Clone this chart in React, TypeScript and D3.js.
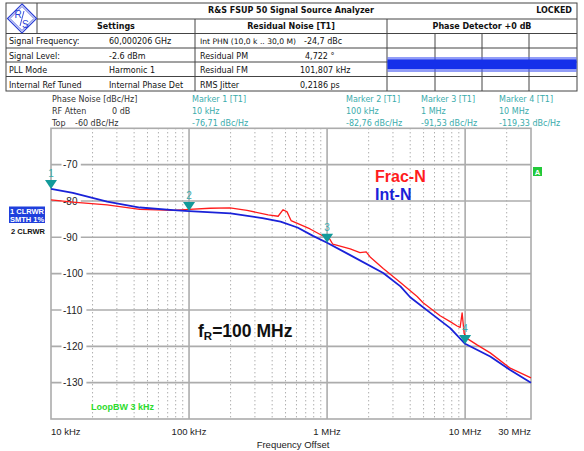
import { scaleLog, scaleLinear, line } from 'd3';

// trace 1 (Int-N)
const intNFreq = [1e4, 1.44e4, 2.55e4, 4.4e4, 7.7e4, 1e5, 2e5, 3.4e5, 4.6e5, 6.1e5, 7.9e5, 1e6, 1.47e6, 2.55e6, 3.4e6, 4e6, 5.6e6, 7.8e6, 1e7, 1.52e7, 2.12e7, 3e7];
const intNLevel = [-76.7, -77.8, -80.2, -81.8, -82.5, -82.8, -83.4, -84.7, -85.7, -87.3, -89.6, -91.5, -94.9, -99.8, -103.5, -106.5, -110.8, -115, -119.3, -122.8, -126.5, -130];

// trace 2 (Frac-N)
const fracNFreq = [1e4, 1.44e4, 2.55e4, 4.4e4, 7.7e4, 1e5, 1.42e5, 1.98e5, 2.63e5, 3.74e5, 4.42e5, 4.8e5, 5.13e5, 5.48e5, 7.53e5, 9.2e5, 1.02e6, 1.1e6, 1.47e6, 1.73e6, 1.92e6, 2.05e6, 2.55e6, 3.38e6, 4.49e6, 4.96e6, 6.59e6, 7.79e6, 8.75e6, 9.2e6, 9.51e6, 9.84e6, 1.03e7, 1.22e7, 1.52e7, 2.12e7, 3e7];
const fracNLevel = [-79.7, -80.3, -81.1, -82.3, -82.6, -82.3, -82.0, -81.9, -82.6, -83.8, -84.2, -82.4, -83.0, -85.4, -87.7, -89.5, -89.8, -91.9, -93.2, -94.2, -94.0, -95.4, -98.6, -102.4, -106.3, -108, -111.6, -113.2, -114.4, -114.8, -110.8, -116.5, -117.8, -119.6, -121.8, -126, -128.7];

const markerFreq = [1e4, 1e5, 1e6, 1e7];
const markerLevel = [-76.71, -82.76, -91.53, -119.33];
const markerFreqLabels = ['10 kHz', '100 kHz', '1 MHz', '10 MHz'];
const markerLevelLabels = ['-76,71 dBc/Hz', '-82,76 dBc/Hz', '-91,53 dBc/Hz', '-119,33 dBc/Hz'];

const yTicks = [-70, -80, -90, -100, -110, -120, -130];
const xTickFreq = [1e4, 1e5, 1e6, 1e7, 3e7];
const xTickLabels = ['10 kHz', '100 kHz', '1 MHz', '10 MHz', '30 MHz'];

const settingsLabels = ['Signal Frequency:', 'Signal Level:', 'PLL Mode', 'Internal Ref Tuned'];
const settingsValues = ['60,000206 GHz', '-2.6 dBm', 'Harmonic 1', 'Internal Phase Det'];
const residualLabels = ['Int PHN (10,0 k .. 30,0 M)', 'Residual PM', 'Residual FM', 'RMS Jitter'];
const residualValues = ['-24,7 dBc', '4,722 °', '101,807 kHz', '0,2186 ps'];

const TEAL = '#129a9a';
const TEAL_TXT = '#3aacac';
const GRID = '#acacac';
const TABLE_FONT = '"DejaVu Sans", Verdana, sans-serif';
const PLOT_FONT = '"Liberation Sans", Arial, sans-serif';

const x = scaleLog().domain([1e4, 3e7]).range([51, 531]);
const y = scaleLinear().domain([-140, -60]).range([419, 128.3]);

const trace = line<[number, number]>()
  .x((d) => x(d[0]))
  .y((d) => y(d[1]));

const minorFreq: number[] = [];
[1e4, 1e5, 1e6, 1e7].forEach((dec) => {
  for (let m = 2; m <= 9; m++) {
    if (dec * m < 3e7) minorFreq.push(dec * m);
  }
});

const rowLines = [33.5, 48, 62, 76.5];
const rowBase = [44, 58.5, 73, 87.5];

const Table = () => (
  <g fontFamily={TABLE_FONT} fontSize={8} fill="#111">
    <rect x={6} y={3} width={571} height={88} fill="#fff" stroke="#444" strokeWidth={1} />
    <line x1={37} x2={577} y1={19} y2={19} stroke="#444" />
    <line x1={37} x2={37} y1={3} y2={33.5} stroke="#444" />
    {rowLines.map((ry) => (
      <line key={ry} x1={6} x2={577} y1={ry} y2={ry} stroke="#444" />
    ))}
    <line x1={195} x2={195} y1={19} y2={91} stroke="#444" />
    <line x1={387} x2={387} y1={19} y2={91} stroke="#444" />
    {[435, 482, 529].map((vx) => (
      <line key={vx} x1={vx} x2={vx} y1={33.5} y2={91} stroke="#444" />
    ))}
    {/* R&S logo */}
    <g fill="none" stroke="#2b3fd6">
      <path d="M22,4 L36.5,18.5 L22,33 L7.5,18.5 Z" strokeWidth={1.2} />
      <path d="M22,6.5 L34,18.5 L22,30.5 L10,18.5 Z" strokeWidth={0.8} />
      <line x1={20} y1={26} x2={24} y2={11} strokeWidth={0.9} />
    </g>
    <text x={14.5} y={18} fill="#2b3fd6" fontFamily={PLOT_FONT} fontSize={10}>R</text>
    <text x={22} y={28} fill="#2b3fd6" fontFamily={PLOT_FONT} fontSize={10}>S</text>

    <text x={291} y={12.5} textAnchor="middle" fontWeight="bold">R&amp;S FSUP 50 Signal Source Analyzer</text>
    <text x={572} y={12.5} textAnchor="end" fontWeight="bold">LOCKED</text>
    <text x={116} y={28.5} textAnchor="middle" fontWeight="bold">Settings</text>
    <text x={291} y={28.5} textAnchor="middle" fontWeight="bold">Residual Noise [T1]</text>
    <text x={482} y={28.5} textAnchor="middle" fontWeight="bold">Phase Detector +0 dB</text>
    {settingsLabels.map((s, i) => (
      <text key={s} x={9} y={rowBase[i]}>{s}</text>
    ))}
    {settingsValues.map((s, i) => (
      <text key={s} x={109} y={rowBase[i]}>{s}</text>
    ))}
    {residualLabels.map((s, i) => (
      <text key={s} x={200} y={rowBase[i]} fontSize={i === 0 ? 7.6 : 8}>{s}</text>
    ))}
    {residualValues.map((s, i) => (
      <text key={s} x={i === 1 ? 305 : i === 0 ? 304 : 300} y={rowBase[i]}>{s}</text>
    ))}
    {/* phase detector noise band */}
    <rect x={387.5} y={57} width={189} height={15} fill="#4a5cf2" opacity={0.6} />
    <rect x={387.5} y={59.5} width={189} height={9.5} fill="#1530ea" />
  </g>
);

const InfoBlock = () => (
  <g fontFamily={TABLE_FONT} fontSize={8}>
    <text x={52} y={102} fill="#333">Phase Noise [dBc/Hz]</text>
    <text x={52} y={114} fill="#333">RF Atten</text>
    <text x={112} y={114} fill="#333">0 dB</text>
    <text x={52} y={126} fill="#333">Top</text>
    <text x={75} y={126} fill="#333">-60 dBc/Hz</text>
    {[192, 346, 421, 499].map((mx, i) => (
      <g key={mx} fill={TEAL_TXT}>
        <text x={mx} y={102}>{`Marker ${i + 1} [T1]`}</text>
        <text x={mx} y={114}>{markerFreqLabels[i]}</text>
        <text x={mx} y={126}>{markerLevelLabels[i]}</text>
      </g>
    ))}
  </g>
);

export default function App() {
  const intN = intNFreq.map((f, i) => [f, intNLevel[i]] as [number, number]);
  const fracN = fracNFreq.map((f, i) => [f, fracNLevel[i]] as [number, number]);
  const [x0, x1] = x.range();
  const [y0, y1] = y.range();

  return (
    <svg width={584} height={451} style={{ position: 'absolute', left: 0, top: 0, background: '#fff' }}>
      <rect width={584} height={451} fill="#fff" />
      <Table />
      <InfoBlock />

      {/* grid */}
      {minorFreq.map((f) => (
        <line key={f} x1={x(f)} x2={x(f)} y1={y1} y2={y0} stroke="#8c8c8c" strokeWidth={1} strokeDasharray="1 3" />
      ))}
      {[1e5, 1e6, 1e7].map((f) => (
        <line key={f} x1={x(f)} x2={x(f)} y1={y1} y2={y0} stroke={GRID} strokeWidth={1.6} />
      ))}
      {yTicks.map((t) => (
        <line key={t} x1={x0} x2={x1} y1={y(t)} y2={y(t)} stroke={GRID} strokeWidth={1.6} />
      ))}
      <rect x={x0} y={y1} width={x1 - x0} height={y0 - y1} fill="none" stroke={GRID} strokeWidth={1.6} />

      {/* y labels sit on the grid lines */}
      {yTicks.map((t) => {
        const s = String(t);
        return (
          <g key={t}>
            <rect x={61.5} y={y(t) - 5} width={s.length * 5.6 + 2.5} height={10} fill="#fff" />
            <text x={63} y={y(t) + 3.6} fontFamily={PLOT_FONT} fontSize={10} fill="#222">{s}</text>
          </g>
        );
      })}

      {/* traces */}
      <path d={trace(fracN) ?? ''} fill="none" stroke="#ff1c1c" strokeWidth={1.3} strokeLinejoin="round" />
      <path d={trace(intN) ?? ''} fill="none" stroke="#1a22d8" strokeWidth={1.8} strokeLinejoin="round" />

      {/* markers */}
      {markerFreq.map((f, i) => {
        const mx = x(f);
        const my = y(markerLevel[i]);
        return (
          <g key={f}>
            <path d={`M${mx - 6},${my - 9} L${mx + 6},${my - 9} L${mx},${my} Z`} fill={TEAL} />
            <text x={mx} y={my - 12} textAnchor="middle" fontFamily={PLOT_FONT} fontSize={10} fill={TEAL_TXT}>
              {i + 1}
            </text>
          </g>
        );
      })}

      {/* x labels */}
      {xTickFreq.map((f, i) => (
        <text
          key={f}
          x={x(f)}
          y={434.5}
          textAnchor={i === 0 ? 'start' : i === xTickFreq.length - 1 ? 'end' : 'middle'}
          fontFamily={PLOT_FONT}
          fontSize={9.5}
          fill="#222"
        >
          {xTickLabels[i]}
        </text>
      ))}
      <text x={293} y={447.5} textAnchor="middle" fontFamily={PLOT_FONT} fontSize={9.5} fill="#222">
        Frequency Offset
      </text>

      {/* trace legend on the left */}
      <rect x={9} y={206.5} width={36} height={16.5} fill="#1f3fdc" />
      <text x={27} y={213.5} textAnchor="middle" fontFamily={PLOT_FONT} fontSize={7.5} fontWeight="bold" fill="#fff">1 CLRWR</text>
      <text x={27} y={221.5} textAnchor="middle" fontFamily={PLOT_FONT} fontSize={7.5} fontWeight="bold" fill="#fff">SMTH 1%</text>
      <text x={11} y={234} fontFamily={PLOT_FONT} fontSize={7.5} fontWeight="bold" fill="#111">2 CLRWR</text>

      <rect x={533} y={167} width={9} height={9} fill="#22c93a" />
      <text x={537.5} y={174.5} textAnchor="middle" fontFamily={PLOT_FONT} fontSize={7.5} fontWeight="bold" fill="#fff">A</text>

      {/* annotations */}
      <text x={375} y={182} fontFamily={PLOT_FONT} fontSize={16} fontWeight="bold" fill="#ff1c1c">Frac-N</text>
      <text x={375} y={200} fontFamily={PLOT_FONT} fontSize={16} fontWeight="bold" fill="#1a22d8">Int-N</text>
      <text x={198} y={337} fontFamily={PLOT_FONT} fontSize={17.5} fontWeight="bold" fill="#111">
        f<tspan fontSize={11.5} dy={3}>R</tspan>
        <tspan dy={-3}>=100 MHz</tspan>
      </text>
      <text x={91} y={410} fontFamily={PLOT_FONT} fontSize={9} fontWeight="bold" fill="#2ddc2d">LoopBW 3 kHz</text>
    </svg>
  );
}
